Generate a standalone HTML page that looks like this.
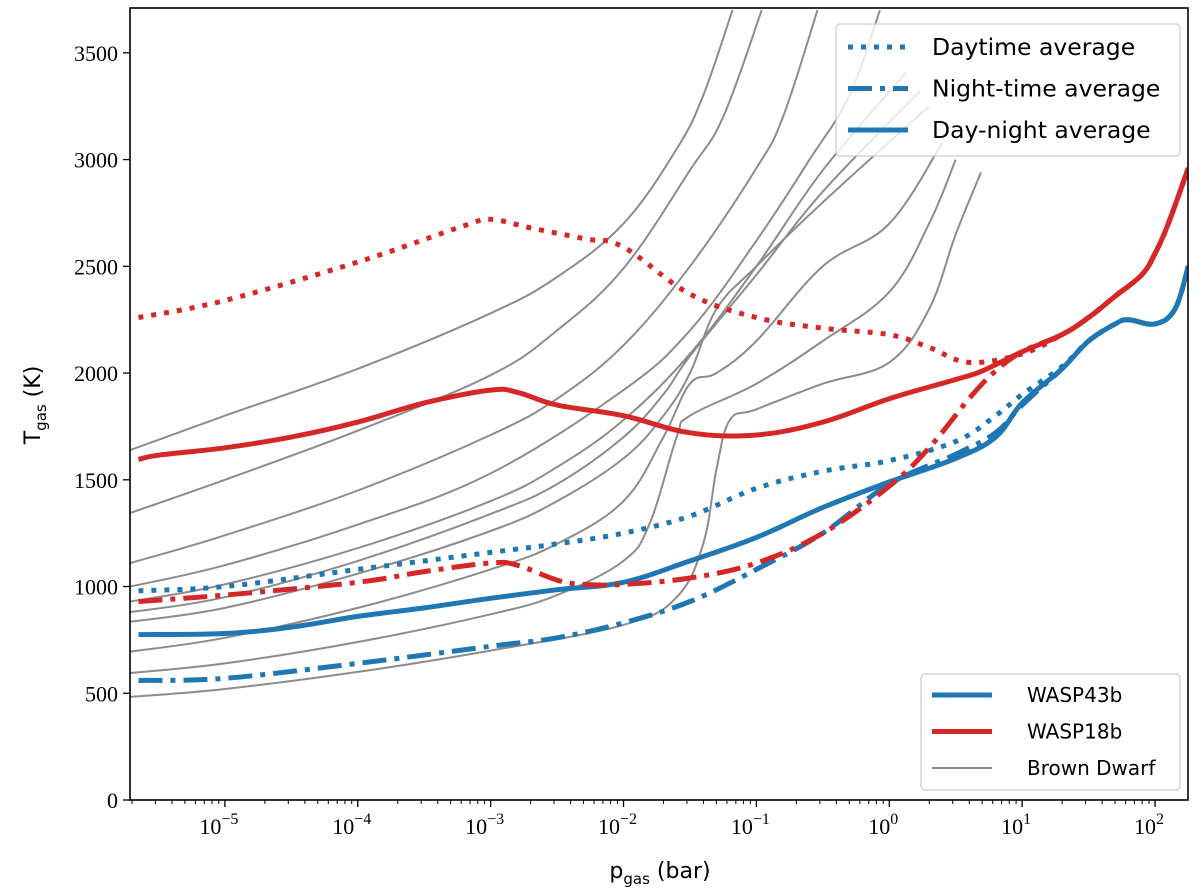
<!DOCTYPE html>
<html><head><meta charset="utf-8"><style>
body{margin:0;background:#fff;}
svg{display:block;}
</style></head><body>
<svg id="chart" width="1200" height="895" xmlns="http://www.w3.org/2000/svg"></svg>
<script>
const yTicks=[0,500,1000,1500,2000,2500,3000,3500];
const xTickExps=[-5,-4,-3,-2,-1,0,1,2];
// WASP18b
const w18DayP=[-5.65,-5,-4,-3.2,-3,-2.7,-2.3,-2,-1.5,-1,-0.5,0,0.3,0.6,1,1.3,1.5,1.7,1.9,2.0,2.1,2.25];
const w18DayT=[2260,2340,2520,2690,2720,2680,2630,2590,2370,2260,2210,2180,2120,2050,2090,2180,2260,2360,2460,2560,2700,2960];
const w18AvgP=[-5.65,-5.5,-5,-4.5,-4,-3.5,-3,-2.8,-2.5,-2,-1.5,-1,-0.5,0,0.5,0.7,1,1.3,1.5,1.7,1.9,2.0,2.1,2.25];
const w18AvgT=[1595,1615,1650,1700,1770,1860,1920,1910,1850,1800,1720,1710,1770,1880,1970,2010,2100,2180,2260,2360,2460,2560,2700,2960];
const w18NightP=[-5.65,-5,-4,-3.5,-3,-2.8,-2.5,-2.3,-2,-1.5,-1,-0.5,0,0.3,0.6,0.8,1,1.3,1.5,1.7,1.9,2.0,2.1,2.25];
const w18NightT=[930,960,1020,1070,1110,1100,1030,1010,1010,1040,1110,1250,1470,1650,1880,2010,2100,2180,2260,2360,2460,2560,2700,2960];
// WASP43b
const w43DayP=[-5.65,-5,-4,-3,-2.5,-2,-1.5,-1,-0.5,0,0.5,0.8,1,1.3,1.5,1.7,1.8,2.0,2.15,2.25];
const w43DayT=[980,1000,1080,1160,1200,1250,1330,1460,1540,1590,1680,1800,1900,2030,2150,2230,2250,2230,2300,2500];
const w43AvgP=[-5.65,-5,-4.5,-4,-3.5,-3,-2.5,-2,-1.5,-1,-0.5,0,0.5,0.8,1,1.3,1.5,1.7,1.8,2.0,2.15,2.25];
const w43AvgT=[775,780,810,860,900,945,985,1020,1120,1230,1370,1490,1600,1700,1860,2020,2150,2230,2250,2230,2300,2500];
const w43NightP=[-5.65,-5,-4,-3,-2.5,-2,-1.5,-1,-0.5,0,0.5,0.8,1,1.3,1.5,1.7,1.8,2.0,2.15,2.25];
const w43NightT=[560,570,640,720,760,830,930,1080,1250,1480,1620,1720,1850,2020,2150,2230,2250,2230,2300,2500];
// Brown dwarf grid
const bdP=[
[-5.71,-5,-4,-3,-2.5,-2,-1.6,-1.4,-1.18],
[-5.71,-5,-4,-3,-2.5,-2,-1.5,-1.25,-0.96],
[-5.71,-5,-4,-3,-2.5,-2,-1.5,-1,-0.8,-0.54],
[-5.71,-5,-4,-3,-2,-1.5,-1,-0.6,-0.3,-0.07],
[-5.71,-5,-4,-3,-2.5,-2,-1.5,-1,-0.5,0.13],
[-5.71,-5,-4,-3,-2.5,-2,-1.7,-1.5,-1,-0.5,0.23],
[-5.71,-5,-4,-3,-2.5,-2,-1.7,-1.5,-1.3,-1,-0.5,0.3],
[-5.71,-5,-4,-3,-2.5,-2,-1.7,-1.5,-1.3,-1,-0.5,0,0.4],
[-5.71,-5,-4,-3,-2.5,-2,-1.8,-1.6,-1.5,-1,-0.5,0,0.3,0.5],
[-5.71,-5,-4,-3,-2,-1.6,-1.4,-1.3,-1.2,-1,-0.5,0,0.3,0.5,0.69]];
const bdT=[
[1640,1800,2020,2280,2450,2700,3050,3300,3700],
[1345,1500,1730,1990,2200,2490,2950,3200,3700],
[1110,1240,1450,1710,1880,2130,2500,2960,3200,3700],
[1000,1100,1290,1530,1920,2200,2620,3000,3300,3700],
[930,1010,1180,1400,1560,1780,2090,2500,2950,3410],
[880,950,1120,1340,1480,1700,1900,2080,2460,2850,3320],
[835,900,1060,1260,1400,1600,1800,2000,2300,2500,2800,3250],
[695,760,900,1080,1200,1400,1700,1950,2000,2150,2500,2700,3080],
[595,640,740,870,960,1120,1300,1700,1800,1950,2150,2380,2700,3000],
[483,520,600,700,820,950,1200,1550,1780,1830,1950,2050,2300,2650,2940]];

const L=130,R=1188,T=8,B=800;
const xmin=-5.714,xmax=2.248,ymin=0,ymax=3710;
const X=v=>L+(v-xmin)/(xmax-xmin)*(R-L);
const Y=v=>B-(v-ymin)/(ymax-ymin)*(B-T);
const NS='http://www.w3.org/2000/svg';
const svg=document.getElementById('chart');
function mk(tag,attrs,parent){const e=document.createElementNS(NS,tag);for(const k in attrs)e.setAttribute(k,attrs[k]);(parent||svg).appendChild(e);return e;}
const defs=mk('defs',{});
const cp=mk('clipPath',{id:'clip'},defs);mk('rect',{x:L,y:T,width:R-L,height:B-T},cp);
const plot=mk('g',{'clip-path':'url(#clip)'});


function path(ps,ts){
  const pts=ps.map((p,i)=>[X(p),Y(ts[i])]);
  let d='M'+pts[0][0].toFixed(1)+','+pts[0][1].toFixed(1);
  for(let i=0;i<pts.length-1;i++){
    const p0=pts[Math.max(0,i-1)],p1=pts[i],p2=pts[i+1],p3=pts[Math.min(pts.length-1,i+2)];
    const t=0.18;
    const c1=[p1[0]+(p2[0]-p0[0])*t,p1[1]+(p2[1]-p0[1])*t];
    const c2=[p2[0]-(p3[0]-p1[0])*t,p2[1]-(p3[1]-p1[1])*t];
    d+=' C'+c1[0].toFixed(1)+','+c1[1].toFixed(1)+' '+c2[0].toFixed(1)+','+c2[1].toFixed(1)+' '+p2[0].toFixed(1)+','+p2[1].toFixed(1);
  }
  return d;
}
bdP.forEach((ps,i)=>{const e=mk('path',{d:path(ps,bdT[i]),fill:'none',stroke:'#8c8c8c','stroke-width':2},plot);

});
const blue='#1f77b4',red='#d62728';
const dot='5,8',dashdot='24,8,5,8';
function series(ps,ts,col,dash,name){const a={d:path(ps,ts),fill:'none',stroke:col,'stroke-width':5,'stroke-linejoin':'round'};if(dash)a['stroke-dasharray']=dash;const e=mk('path',a,plot);

}
series(w43NightP,w43NightT,blue,dashdot,'wasp43b-night-line');
series(w43DayP,w43DayT,blue,dot,'wasp43b-day-line');
series(w43AvgP,w43AvgT,blue,null,'wasp43b-avg-line');
series(w18NightP,w18NightT,red,dashdot,'wasp18b-night-line');
series(w18DayP,w18DayT,red,dot,'wasp18b-day-line');
series(w18AvgP,w18AvgT,red,null,'wasp18b-avg-line');
// frame
const fr=mk('rect',{x:L,y:T,width:R-L,height:B-T,fill:'none',stroke:'#000','stroke-width':1.6});


// y ticks
yTicks.forEach(v=>{mk('line',{x1:L-7,x2:L,y1:Y(v),y2:Y(v),stroke:'#000','stroke-width':1.3});
const t=mk('text',{x:L-12,y:Y(v)+8,'text-anchor':'end','font-family':'Liberation Serif, serif','font-size':22});t.textContent=v;

});
// x ticks
xTickExps.forEach(e=>{const x=X(e);mk('line',{x1:x,x2:x,y1:B,y2:B+7,stroke:'#000','stroke-width':1.3});
const t=mk('text',{x:x-6,y:B+34,'text-anchor':'middle','font-family':'Liberation Serif, serif','font-size':22});


const a=mk('tspan',{},t);a.textContent='10';const b=mk('tspan',{dy:-10,'font-size':16},t);b.textContent=String(e).replace('-','\u2212');});
for(let e=-6;e<=2;e++)for(let k=2;k<10;k++){const v=e+Math.log10(k);if(v<xmin||v>xmax)continue;mk('line',{x1:X(v),x2:X(v),y1:B,y2:B+4,stroke:'#000','stroke-width':1});}
// axis labels
const xl=mk('text',{x:660,y:878,'text-anchor':'middle','font-family':'DejaVu Sans, sans-serif','font-size':22});


xl.innerHTML='p<tspan dy="6" font-size="15">gas</tspan><tspan dy="-6"> (bar)</tspan>';
const yl=mk('text',{x:0,y:0,'text-anchor':'middle','font-family':'DejaVu Sans, sans-serif','font-size':22,transform:'translate(40,405) rotate(-90)'});


yl.innerHTML='T<tspan dy="6" font-size="15">gas</tspan><tspan dy="-6"> (K)</tspan>';
// legend 1
const lg=mk('g',{});


mk('rect',{x:836,y:24,width:344,height:132,rx:4,fill:'rgba(255,255,255,0.8)',stroke:'#ccc','stroke-width':1.2},lg);
[['Daytime average',dot],['Night-time average',dashdot],['Day-night average',null]].forEach((d,i)=>{const y=47+i*41.5;
const a={x1:848,x2:908,y1:y,y2:y,stroke:blue,'stroke-width':5};if(d[1])a['stroke-dasharray']=d[1];mk('line',a,lg);
const t=mk('text',{x:932,y:y+8,'font-family':'DejaVu Sans, sans-serif','font-size':23.5},lg);t.textContent=d[0];

});
// legend 2
const lg2=mk('g',{});


mk('rect',{x:921,y:674,width:259,height:116,rx:4,fill:'rgba(255,255,255,0.8)',stroke:'#ccc','stroke-width':1.2},lg2);
[['WASP43b',blue,5],['WASP18b',red,5],['Brown Dwarf','#8c8c8c',2]].forEach((d,i)=>{const y=695+i*36.5;
mk('line',{x1:932,x2:992,y1:y,y2:y,stroke:d[1],'stroke-width':d[2]},lg2);
const t=mk('text',{x:1027,y:y+7,'font-family':'DejaVu Sans, sans-serif','font-size':20},lg2);t.textContent=d[0];

});
</script>
</body></html>
